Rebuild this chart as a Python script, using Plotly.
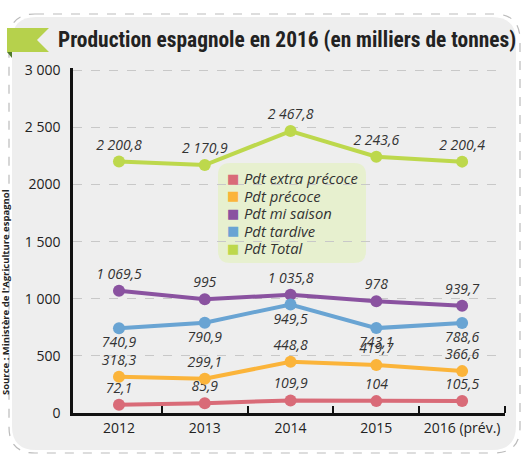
import plotly.graph_objects as go

# ---------------- data ----------------
years = ["2012", "2013", "2014", "2015", "2016 (prév.)"]
extra_precoce = [72.1, 85.9, 109.9, 104, 105.5]
precoce = [318.3, 299.1, 448.8, 419.7, 366.6]
mi_saison = [1069.5, 995, 1035.8, 978, 939.7]
tardive = [740.9, 790.9, 949.5, 743.1, 788.6]
total = [2200.8, 2170.9, 2467.8, 2243.6, 2200.4]

series_names = ["Pdt extra précoce", "Pdt précoce", "Pdt mi saison", "Pdt tardive", "Pdt Total"]
y_tickvals = [0, 500, 1000, 1500, 2000, 2500, 3000]
y_ticktext = ["0", "500", "1 000", "1 500", "2000", "2 500", "3 000"]

title_text = "Production espagnole en 2016 (en milliers de tonnes)"
source_text = "Source : Ministère de l'Agriculture espagnol"

# ---------------- styles ----------------
colors = ["#d96b78", "#fbb43a", "#8a52a0", "#69a4d3", "#bdd84c"]
label_pos = ["top center", "top center", "top center", "bottom center", "top center"]

W, H = 527, 459
L, R, T, B = 73, 505, 68, 413


def fmt(v):
    s = f"{v:,.1f}".replace(",", " ").replace(".", ",")
    if s.endswith(",0"):
        s = s[:-2]
    return s


def px(x):
    return (x - L) / (R - L)


def py(y):
    return (B - y) / (B - T)


def rrect(x0, y0, x1, y1, r):
    pts = [
        ("M", [(x0 + r, y0)]),
        ("L", [(x1 - r, y0)]),
        ("Q", [(x1, y0), (x1, y0 + r)]),
        ("L", [(x1, y1 - r)]),
        ("Q", [(x1, y1), (x1 - r, y1)]),
        ("L", [(x0 + r, y1)]),
        ("Q", [(x0, y1), (x0, y1 - r)]),
        ("L", [(x0, y0 + r)]),
        ("Q", [(x0, y0), (x0 + r, y0)]),
    ]
    out = ""
    for cmd, ps in pts:
        out += cmd + " " + " ".join(f"{px(a):.5f},{py(b):.5f}" for a, b in ps) + " "
    return out + "Z"


def poly(points):
    return "M " + " L ".join(f"{px(a):.5f},{py(b):.5f}" for a, b in points) + " Z"


fig = go.Figure()

all_series = [extra_precoce, precoce, mi_saison, tardive, total]
xs = list(range(len(years)))

for name, vals, col, pos in zip(series_names, all_series, colors, label_pos):
    fig.add_trace(go.Scatter(
        x=xs, y=vals, mode="lines+markers+text", name=name,
        line=dict(color=col, width=4),
        marker=dict(color=col, size=12),
        text=[fmt(v) for v in vals],
        textposition=pos,
        textfont=dict(family="Open Sans, sans-serif", size=14, color="#333333", style="italic"),
        cliponaxis=False,
        showlegend=False,
        hoverinfo="skip",
    ))

shapes = [
    # grey panel
    dict(type="path", xref="paper", yref="paper", path=rrect(12, 17, 516, 450, 24),
         fillcolor="#eeeeee", line=dict(width=0), layer="below"),
    # dashed outer border
    dict(type="path", xref="paper", yref="paper", path=rrect(9, 14, 520, 453, 26),
         fillcolor="rgba(0,0,0,0)", line=dict(color="#bbbbbb", width=1.2, dash="dash"), layer="below"),
    # legend box
    dict(type="path", xref="paper", yref="paper", path=rrect(218, 163, 366, 263, 12),
         fillcolor="#e7f0cf", line=dict(width=0), layer="below"),
    # banner fold
    dict(type="path", xref="paper", yref="paper", path=poly([(7, 52), (12, 52), (12, 58)]),
         fillcolor="#4f7a2a", line=dict(width=0), layer="above"),
    # banner ribbon
    dict(type="path", xref="paper", yref="paper",
         path=poly([(7, 28), (49, 28), (37, 40), (49, 52), (7, 52)]),
         fillcolor="#b6d14c", line=dict(width=0), layer="above"),
]

annotations = [
    dict(text=f"<b>{title_text}</b>", xref="paper", yref="paper",
         x=px(56), y=py(40), xanchor="left", yanchor="middle", showarrow=False,
         font=dict(family="Roboto Condensed, Liberation Sans Narrow, Noto Sans Condensed, DejaVu Sans Condensed, sans-serif",
                   size=21.4, color="#222222")),
    dict(text=f"<b>{source_text}</b>", xref="paper", yref="paper",
         x=px(5), y=py(292), xanchor="center", yanchor="middle", textangle=-90, showarrow=False,
         font=dict(family="Open Sans, sans-serif", size=9.5, color="#222222")),
]

# legend built as text rows so the row spacing matches the reference
row_y0, row_step = 178, 17.5
for i, (name, col) in enumerate(zip(series_names, colors)):
    yy = row_y0 + i * row_step
    annotations.append(dict(
        text="■", xref="paper", yref="paper", x=px(233), y=py(yy),
        xanchor="center", yanchor="middle", showarrow=False,
        font=dict(family="DejaVu Sans, sans-serif", size=13, color=col)))
    annotations.append(dict(
        text=name, xref="paper", yref="paper", x=px(242), y=py(yy),
        xanchor="left", yanchor="middle", showarrow=False,
        font=dict(family="Open Sans, sans-serif", size=14.8, color="#333333", style="italic")))

fig.update_layout(
    width=W, height=H,
    margin=dict(l=L, r=W - R, t=T, b=H - B, pad=0),
    paper_bgcolor="white",
    plot_bgcolor="rgba(0,0,0,0)",
    shapes=shapes,
    annotations=annotations,
    showlegend=False,
    xaxis=dict(
        range=[-0.536, 4.5], tickmode="array", tickvals=xs, ticktext=years,
        showgrid=False, zeroline=False, showline=True, linecolor="#111111", linewidth=2.5,
        ticks="", tickfont=dict(family="Open Sans, sans-serif", size=14, color="#222222"),
        minor=dict(tickmode="array", tickvals=[0.5, 1.5, 2.5, 3.5, 4.5], ticks="inside",
                   ticklen=7, tickwidth=2, tickcolor="#111111", showgrid=False),
        fixedrange=True,
    ),
    yaxis=dict(
        range=[0, 3020], tickmode="array", tickvals=y_tickvals, ticktext=y_ticktext,
        showgrid=True, gridcolor="#c8c8c8", gridwidth=1, griddash="dash",
        zeroline=False, showline=True, linecolor="#111111", linewidth=2.5,
        ticks="", ticklabelstandoff=7,
        tickfont=dict(family="Open Sans, sans-serif", size=14, color="#222222"),
        fixedrange=True,
    ),
)

fig.write_html("out.html", config={"displayModeBar": False},
               post_script="document.body.style.margin='0';document.body.style.overflow='hidden';")
